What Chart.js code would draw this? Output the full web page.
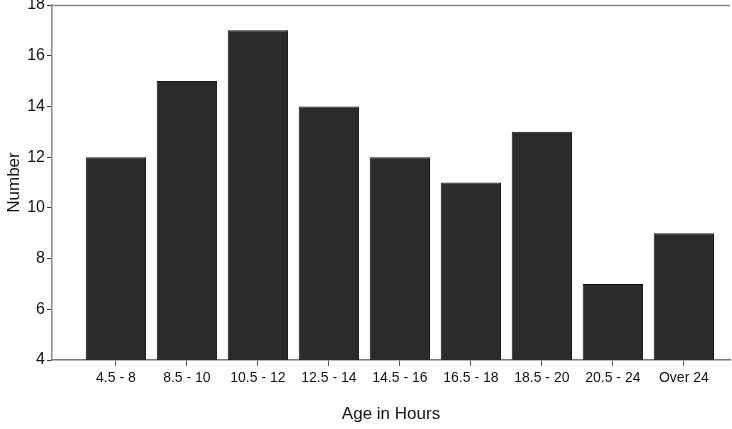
<!DOCTYPE html>
<html>
<head>
<meta charset="utf-8">
<script src="https://cdn.jsdelivr.net/npm/chart.js@4.4.0/dist/chart.umd.min.js"></script>
<style>
  html, body { margin: 0; padding: 0; background: #fff; }
  #wrap { width: 732px; height: 429px; }
</style>
</head>
<body>
<div id="wrap"><canvas id="myChart" width="732" height="429"></canvas></div>
<script>
// categories and values
var ageGroups = ['4.5 - 8', '8.5 - 10', '10.5 - 12', '12.5 - 14', '14.5 - 16', '16.5 - 18', '18.5 - 20', '20.5 - 24', 'Over 24'];
var counts = [12, 15, 17, 14, 12, 11, 13, 7, 9];
var yTicks = [4, 6, 8, 10, 12, 14, 16, 18];

var points = counts.map(function (v, i) { return { x: i + 1, y: v }; });

// thin grey line along the top of the plot
var topLine = {
  id: 'topLine',
  afterDraw: function (chart) {
    var a = chart.chartArea, c = chart.ctx;
    c.save();
    c.strokeStyle = '#8a8a8a';
    c.lineWidth = 1.5;
    c.beginPath();
    c.moveTo(a.left, a.top + 0.5);
    c.lineTo(a.right, a.top + 0.5);
    c.stroke();
    c.restore();
  }
};

var ctx = document.getElementById('myChart').getContext('2d');
var chart = new Chart(ctx, {
  type: 'bar',
  data: {
    datasets: [{
      data: points,
      backgroundColor: '#2b2b2b',
      borderColor: '#111',
      borderWidth: 1,
      barPercentage: 0.85,
      categoryPercentage: 1
    }]
  },
  plugins: [topLine],
  options: {
    responsive: false,
    animation: false,
    layout: { padding: { top: 5, right: 2, left: 0, bottom: 0 } },
    plugins: { legend: { display: false }, tooltip: { enabled: false } },
    scales: {
      x: {
        type: 'linear',
        offset: false,
        min: 0.1,
        max: 9.65,
        afterBuildTicks: function (scale) {
          scale.ticks = ageGroups.map(function (_, i) { return { value: i + 1 }; });
        },
        afterFit: function (scale) { scale.height = 69; },
        ticks: {
          color: '#111',
          font: { family: 'Liberation Sans, Arial, sans-serif', size: 14 },
          padding: 4,
          maxRotation: 0,
          autoSkip: false,
          callback: function (v) { return ageGroups[v - 1] || ''; }
        },
        grid: { offset: false, drawOnChartArea: false, drawTicks: true, tickLength: 6, color: '#555' },
        border: { color: '#777', width: 1.5 },
        title: {
          display: true,
          text: 'Age in Hours',
          color: '#111',
          font: { family: 'Liberation Sans, Arial, sans-serif', size: 17 },
          padding: { top: 16 }
        }
      },
      y: {
        min: 4,
        max: 18,
        afterBuildTicks: function (scale) {
          scale.ticks = yTicks.map(function (v) { return { value: v }; });
        },
        afterFit: function (scale) {
          scale.width = 52;
          scale.paddingTop = 0;
          scale.paddingBottom = 0;
        },
        ticks: {
          color: '#111',
          font: { family: 'Liberation Sans, Arial, sans-serif', size: 16 },
          padding: 2
        },
        grid: { drawOnChartArea: false, drawTicks: true, tickLength: 5, color: '#333' },
        border: { color: '#888', width: 1.5 },
        title: {
          display: true,
          text: 'Number',
          color: '#111',
          font: { family: 'Liberation Sans, Arial, sans-serif', size: 17 },
          padding: { bottom: 1 }
        }
      }
    }
  }
});
</script>
</body>
</html>
